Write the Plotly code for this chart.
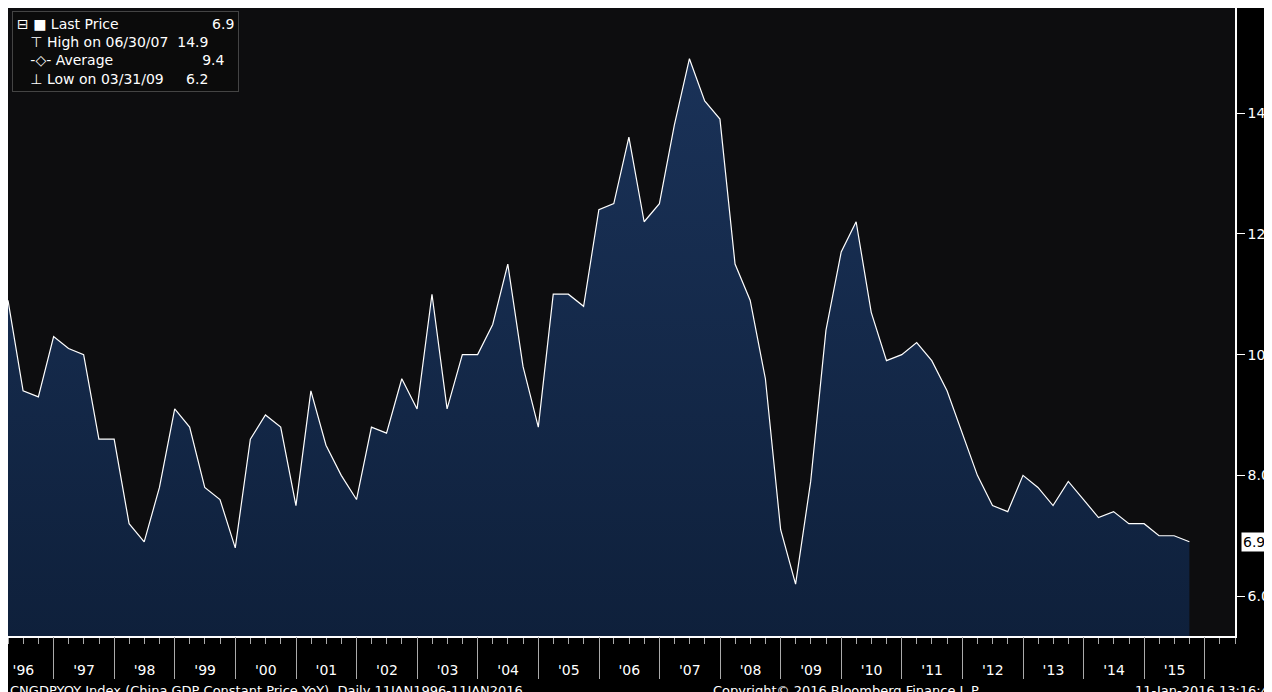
import pandas as pd
import plotly.graph_objects as go

# China GDP constant price YoY, quarterly 1996Q1 .. 2015Q3
quarter_ends = pd.date_range("1996-03-31", "2015-09-30", freq="QE")
gdp_yoy = [10.9, 9.4, 9.3, 10.3,
           10.1, 10.0, 8.6, 8.6,
           7.2, 6.9, 7.8, 9.1,
           8.8, 7.8, 7.6, 6.8,
           8.6, 9.0, 8.8, 7.5,
           9.4, 8.5, 8.0, 7.6,
           8.8, 8.7, 9.6, 9.1,
           11.0, 9.1, 10.0, 10.0,
           10.5, 11.5, 9.8, 8.8,
           11.0, 11.0, 10.8, 12.4,
           12.5, 13.6, 12.2, 12.5,
           13.8, 14.9, 14.2, 13.9,
           11.5, 10.9, 9.6, 7.1,
           6.2, 7.9, 10.4, 11.7,
           12.2, 10.7, 9.9, 10.0,
           10.2, 9.9, 9.4, 8.7,
           8.0, 7.5, 7.4, 8.0,
           7.8, 7.5, 7.9, 7.6,
           7.3, 7.4, 7.2, 7.2,
           7.0, 7.0, 6.9]
y_ticks = [6.0, 8.0, 10.0, 12.0, 14.0]

FONT = "DejaVu Sans"
x_range = ["1996-03-31", "2016-07-01"]

fig = go.Figure()
fig.add_trace(go.Scatter(
    x=quarter_ends, y=gdp_yoy, mode="lines",
    line=dict(color="white", width=1.2),
    fill="tozeroy",
    fillgradient=dict(type="vertical",
                      colorscale=[[0, "#08162b"], [1, "#1a3258"]]),
    hoverinfo="skip", showlegend=False,
))

fig.update_layout(
    width=1272, height=692,
    margin=dict(l=0, r=45, t=0, b=64, autoexpand=False),
    paper_bgcolor="black", plot_bgcolor="#0d0d0f",
    font=dict(family=FONT, color="white", size=14),
    xaxis=dict(
        type="date", range=x_range,
        dtick="M12", tick0="1996-01-01", tickformat="'%y",
        ticklabelmode="period", ticks="outside", ticklen=6,
        tickcolor="#aaaaaa", showgrid=False, zeroline=False,
        showline=True, linecolor="white", linewidth=1.5,
        minor=dict(dtick="M3", ticks="outside", ticklen=6, tickcolor="#aaaaaa"),
        tickfont=dict(size=14), ticklabelstandoff=14,
    ),
    # long year separators below the axis
    xaxis2=dict(
        type="date", range=x_range, overlaying="x", side="bottom",
        dtick="M12", tick0="1996-01-01", showticklabels=False,
        ticks="outside", ticklen=42, tickcolor="#aaaaaa",
        showgrid=False, zeroline=False, showline=False,
    ),
    yaxis=dict(
        side="right", range=[5.34, 15.74], tickvals=y_ticks,
        tickformat=".1f", ticks="outside", ticklen=8, tickcolor="white",
        showgrid=False, zeroline=False, showline=True, linecolor="white",
        linewidth=1.5, tickfont=dict(size=14),
    ),
)
# invisible trace so the separator axis is drawn
fig.add_trace(go.Scatter(x=[quarter_ends[0]], y=[gdp_yoy[0]], xaxis="x2",
                         mode="markers", marker=dict(opacity=0),
                         hoverinfo="skip", showlegend=False))

# last price tag on the right axis
fig.add_annotation(x=1, xref="paper", y=gdp_yoy[-1], yref="y",
                   text="6.9", showarrow=False, xanchor="left",
                   xshift=6, bgcolor="white", font=dict(color="black", size=14),
                   borderpad=1)

# legend box
legend_text = ("⊟ ■ Last Price                     6.9<br>"
               "   ⊤ High on 06/30/07  14.9<br>"
               "   -◇- Average                    9.4<br>"
               "   ⊥ Low on 03/31/09     6.2")
fig.add_annotation(x=0.003, y=0.995, xref="paper", yref="paper",
                   xanchor="left", yanchor="top", align="left",
                   text=legend_text, showarrow=False,
                   bgcolor="#0b0b0b", bordercolor="#444444", borderwidth=1,
                   borderpad=4, font=dict(size=14, color="white"))

# footer
foot_y = -0.086
fig.add_annotation(x=0, y=foot_y, xref="paper", yref="paper",
                   xanchor="left", yanchor="middle", showarrow=False,
                   text="CNGDPYOY Index (China GDP Constant Price YoY)  Daily 11JAN1996-11JAN2016",
                   font=dict(size=13))
fig.add_annotation(x=0.795, y=foot_y, xref="paper", yref="paper",
                   xanchor="right", yanchor="middle", showarrow=False,
                   text="Copyright© 2016 Bloomberg Finance L.P.", font=dict(size=13))
fig.add_annotation(x=1.036, y=foot_y, xref="paper", yref="paper",
                   xanchor="right", yanchor="middle", showarrow=False,
                   text="11-Jan-2016 13:16:44", font=dict(size=13))

fig.write_html("out.html")
